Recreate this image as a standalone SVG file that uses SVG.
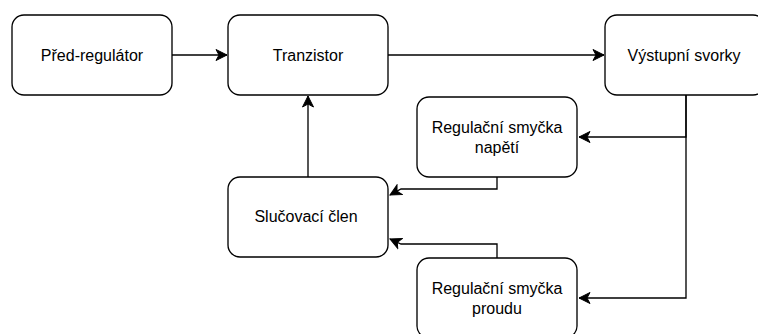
<svg xmlns="http://www.w3.org/2000/svg" width="758" height="334" viewBox="0 0 758 334">
  <style>
    .box { fill: #ffffff; stroke: #000000; stroke-width: 1.33; }
    .lbl { font-family: "Liberation Sans", Arial, sans-serif; font-size: 16px; fill: #000000; text-anchor: middle; }
    .edge { fill: none; stroke: #000000; stroke-width: 1.33; marker-end: url(#arrow); }
  </style>
  <defs>
    <marker id="arrow" markerUnits="userSpaceOnUse" markerWidth="14" markerHeight="14" viewBox="0 0 14 14" refX="12" refY="7" orient="auto">
      <path d="M1,1.5 L12,7 L1,12.5 L4,7 Z" fill="#000000" stroke="#000000" stroke-width="1"/>
    </marker>
  </defs>

  <rect width="758" height="334" fill="#ffffff"/>

  <g id="connectors">
    <polyline class="edge" points="172,55 227,55"/>
    <polyline class="edge" points="388,55 604,55"/>
    <polyline class="edge" points="686,95 686,137 579,137"/>
    <polyline class="edge" points="686,95 686,298 579,298"/>
    <polyline class="edge" points="497,177 497,189 401,189 390,195"/>
    <polyline class="edge" points="497,258 497,244 401,244 390,239"/>
    <polyline class="edge" points="308,177 308,96"/>
  </g>

  <g id="pred-regulator">
    <rect class="box" x="12" y="15" width="160" height="80" rx="12" ry="12"/>
    <text class="lbl" x="92" y="60.5">Před-regulátor</text>
  </g>

  <g id="tranzistor">
    <rect class="box" x="228" y="15" width="160" height="80" rx="12" ry="12"/>
    <text class="lbl" x="308" y="60.5">Tranzistor</text>
  </g>

  <g id="vystupni-svorky">
    <rect class="box" x="605" y="15" width="160" height="80" rx="12" ry="12"/>
    <text class="lbl" x="684" y="60.5">Výstupní svorky</text>
  </g>

  <g id="smycka-napeti">
    <rect class="box" x="417" y="97" width="160" height="80" rx="12" ry="12"/>
    <text class="lbl" x="497" y="132.7">Regulační smyčka</text>
    <text class="lbl" x="497" y="152.7">napětí</text>
  </g>

  <g id="slucovaci-clen">
    <rect class="box" x="228" y="177" width="160" height="80" rx="12" ry="12"/>
    <text class="lbl" x="306" y="222">Slučovací člen</text>
  </g>

  <g id="smycka-proudu">
    <rect class="box" x="417" y="258" width="160" height="80" rx="12" ry="12"/>
    <text class="lbl" x="497" y="294">Regulační smyčka</text>
    <text class="lbl" x="497" y="314">proudu</text>
  </g>
</svg>
